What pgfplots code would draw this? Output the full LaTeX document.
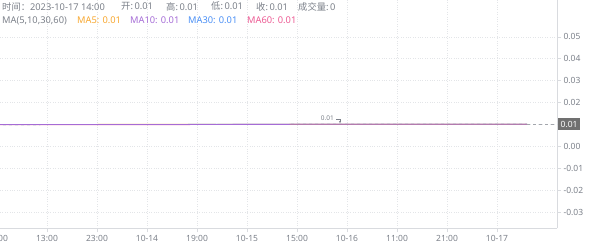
\documentclass[border=0pt]{standalone}
\usepackage{fontspec}
\setmainfont{Noto Sans}
\newfontfamily\cjk{Noto Sans CJK SC}
\usepackage{pgfplots}
\pgfplotsset{compat=1.18}
\usetikzlibrary{arrows.meta}

\definecolor{txtgray}{HTML}{7B8089}
\definecolor{gridgray}{HTML}{E3E5E8}
\definecolor{axgray}{HTML}{D9DBDF}
\definecolor{ma5}{HTML}{F7A72F}
\definecolor{ma10}{HTML}{A56CD6}
\definecolor{ma30}{HTML}{4A8FF5}
\definecolor{ma60}{HTML}{EC5A93}
\definecolor{upc}{HTML}{26A69A}
\definecolor{tagbg}{HTML}{707070}

\begin{document}
\begin{tikzpicture}[x=1pt,y=1pt]

\begin{axis}[
  name=main,
  at={(0pt,17.7pt)}, anchor=south west,
  scale only axis, width=557pt, height=228.3pt,
  xmin=0.6, xmax=112,
  ymin=-0.0374, ymax=0.0668,
  scaled y ticks=false,
  axis x line*=bottom, axis y line*=right,
  axis line style={axgray, line width=0.6pt},
  xtick={10,20,...,100},
  xticklabels={13:00,23:00,10-14,19:00,10-15,15:00,10-16,11:00,21:00,10-17},
  ytick={-0.03,-0.02,...,0.051},
  yticklabels={-0.03,-0.02,-0.01,0.00,{},0.02,0.03,0.04,0.05},
  grid=major,
  major grid style={gridgray, dotted, line width=0.6pt},
  tick align=outside, major tick length=4pt,
  tick style={axgray, line width=0.6pt},
  ticklabel style={font=\fontsize{8.5}{10}\selectfont, text=txtgray},
  yticklabel style={anchor=west, xshift=-1pt},
  clip=true,
]
% close series
\addplot[upc, line width=0.6pt, dashed] coordinates {
 (0,0.00988) (8,0.00988) (16,0.00992) (24,0.00998) (32,0.00998) (40,0.01004)
 (48,0.01000) (56,0.01004) (62,0.01010) (70,0.01010) (80,0.01010) (90,0.01010) (100,0.01010) (106,0.01010)};
% MA60
\addplot[ma60, line width=0.9pt] coordinates {
 (0,0.00992) (16,0.00994) (30,0.00995) (34,0.00988) (38,0.00995) (48,0.00998)
 (60,0.01000) (72,0.01003) (84,0.01005) (96,0.01007) (106,0.01008)};
% MA30
\addplot[ma30, line width=0.8pt] coordinates {
 (0,0.00997) (14,0.00998) (26,0.01000) (38,0.01002) (50,0.01004) (62,0.01006)
 (74,0.01008) (86,0.01010) (98,0.01011) (106,0.01011)};
% MA5
\addplot[ma5, line width=0.8pt] coordinates {
 (0,0.01000) (10,0.01000) (20,0.01002) (28,0.01006) (36,0.01003) (44,0.01002)
 (52,0.01005) (60,0.01007) (66,0.01013) (74,0.01008) (84,0.01008) (94,0.01010) (106,0.01010)};
% MA10
\addplot[ma10, line width=0.8pt] coordinates {
 (0,0.00995) (12,0.00996) (22,0.00999) (32,0.01002) (42,0.01001) (52,0.01003)
 (62,0.01005) (72,0.01008) (84,0.01009) (96,0.01010) (106,0.01010)};

% last price guide
\addplot[txtgray!70, dashed, line width=0.6pt] coordinates {(106,0.0101) (112,0.0101)};
\coordinate (lastp) at (axis cs:112,0.0101);

% high marker
\coordinate (hi) at (axis cs:68.6,0.0102);
\draw[txtgray, line width=0.5pt, -{Stealth[length=2pt,width=2pt]}]
  (hi) ++(-4pt,5pt) -- ++(4pt,0pt) -- ++(0pt,-4pt);
\node[anchor=east, text=txtgray, inner sep=1pt, font=\fontsize{6.5}{7}\selectfont]
  at ([xshift=-5pt,yshift=6pt]hi) {0.01};
\end{axis}

% last price tag on the value axis
\node[fill=tagbg, text=white, inner xsep=2.5pt, inner ysep=3pt, anchor=west,
      font=\fontsize{8.5}{10}\selectfont] at ([xshift=1pt]lastp) {0.01};

% first time label, half outside the left edge
\node[anchor=north, inner sep=0.333em, text=txtgray, font=\fontsize{8.5}{10}\selectfont]
  at ([shift={(-3pt,-4pt)}]main.south west) {03:00};

% header rows, placed against the top edge of the axis box
\begin{scope}[every node/.style={anchor=west, inner sep=0pt, font=\fontsize{9.3}{10}\selectfont}]
\node[text=txtgray] at ([shift={(2pt,-6.5pt)}]main.north west) {{\cjk 时间：}2023-10-17 14:00};
\node[text=txtgray] at ([shift={(121pt,-6.5pt)}]main.north west) {{\cjk 开}:\,0.01};
\node[text=txtgray] at ([shift={(166pt,-6.5pt)}]main.north west) {{\cjk 高}:\,0.01};
\node[text=txtgray] at ([shift={(211pt,-6.5pt)}]main.north west) {{\cjk 低}:\,0.01};
\node[text=txtgray] at ([shift={(256pt,-6.5pt)}]main.north west) {{\cjk 收}:\,0.01};
\node[text=txtgray] at ([shift={(298pt,-6.5pt)}]main.north west) {{\cjk 成交量}:\,0};
\node[text=txtgray] at ([shift={(2pt,-20.5pt)}]main.north west) {MA(5,10,30,60)};
\node[text=ma5] at ([shift={(77pt,-20.5pt)}]main.north west) {MA5: 0.01};
\node[text=ma10] at ([shift={(130pt,-20.5pt)}]main.north west) {MA10: 0.01};
\node[text=ma30] at ([shift={(188pt,-20.5pt)}]main.north west) {MA30: 0.01};
\node[text=ma60] at ([shift={(247pt,-20.5pt)}]main.north west) {MA60: 0.01};
\end{scope}

\pgfresetboundingbox
\path[use as bounding box] (main.north west) rectangle ([shift={(43pt,-17.7pt)}]main.south east);
\end{tikzpicture}
\end{document}
